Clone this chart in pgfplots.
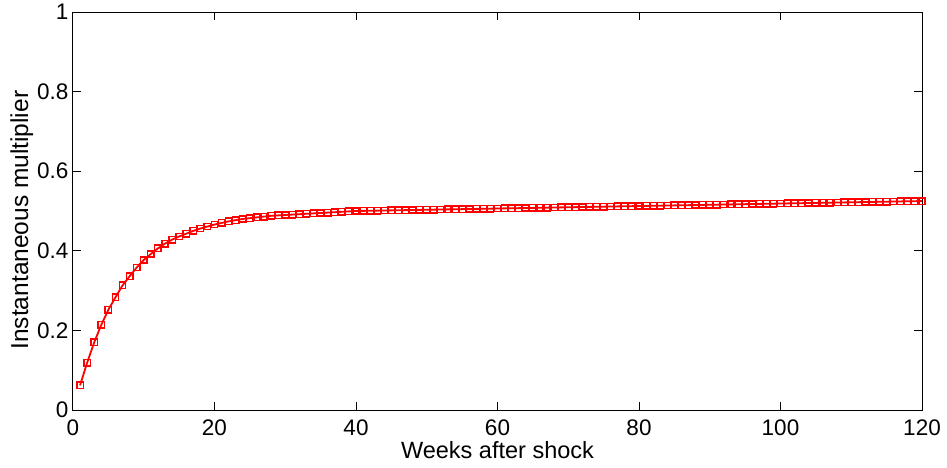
\documentclass[border=0pt]{standalone}
\usepackage{pgfplots}
\pgfplotsset{compat=1.18}
\usepackage{fontspec}
\setmainfont{Liberation Sans}
\begin{document}
\fontsize{22}{26}\selectfont
\begin{tikzpicture}[x=1pt,y=1pt]
\path[use as bounding box] (-73pt,-57pt) rectangle (874pt,410pt);
\begin{axis}[
  at={(0pt,0pt)}, anchor=south west,
  scale only axis,
  width=849pt, height=398pt,
  xmin=0, xmax=120, ymin=0, ymax=1,
  xtick={0,20,...,120},
  ytick={0,0.2,0.4,0.6,0.8,1},
  /pgf/number format/assume math mode=true,
  /pgf/number format/fixed,
  tick align=inside,
  major tick length=8pt,
  tick style={black, line width=1pt},
  axis line style={black, line width=1pt},
  xlabel={Weeks after shock},
  ylabel={Instantaneous multiplier},
  xlabel style={at={(axis description cs:0.5,-0.1206)}, anchor=base, font=\fontsize{23.5}{26}\selectfont},
  ylabel style={at={(axis description cs:-0.0530,0.477)}, anchor=base, font=\fontsize{24.5}{28}\selectfont},
  xticklabel style={yshift=-2pt},
  yticklabel style={xshift=3pt},
  ticklabel style={font=\fontsize{22.5}{26}\selectfont},
]
\addplot[red, line width=1.8pt, mark=square, mark size=3.2pt, mark options={line width=1.5pt, fill=white}] table {
x y
1 0.062
2 0.119
3 0.170
4 0.214
5 0.252
6 0.283
7 0.313
8 0.336
9 0.358
10 0.377
11 0.392
12 0.406
13 0.418
14 0.428
15 0.436
16 0.443
17 0.450
18 0.456
19 0.461
20 0.466
21 0.470
22 0.474
23 0.477
24 0.480
25 0.482
26 0.484
27 0.486
28 0.488
29 0.489
30 0.490
31 0.491
32 0.492
33 0.493
34 0.494
35 0.495
36 0.496
37 0.497
38 0.498
39 0.499
40 0.5000
41 0.5003
42 0.5006
43 0.5009
44 0.5013
45 0.5016
46 0.5019
47 0.5022
48 0.5025
49 0.5028
50 0.5031
51 0.5034
52 0.5038
53 0.5041
54 0.5044
55 0.5047
56 0.5050
57 0.5053
58 0.5056
59 0.5059
60 0.5063
61 0.5066
62 0.5069
63 0.5072
64 0.5075
65 0.5078
66 0.5081
67 0.5084
68 0.5088
69 0.5091
70 0.5094
71 0.5097
72 0.5100
73 0.5103
74 0.5106
75 0.5109
76 0.5113
77 0.5116
78 0.5119
79 0.5122
80 0.5125
81 0.5128
82 0.5131
83 0.5134
84 0.5138
85 0.5141
86 0.5144
87 0.5147
88 0.5150
89 0.5153
90 0.5156
91 0.5159
92 0.5163
93 0.5166
94 0.5169
95 0.5172
96 0.5175
97 0.5178
98 0.5181
99 0.5184
100 0.5188
101 0.5191
102 0.5194
103 0.5197
104 0.5200
105 0.5203
106 0.5206
107 0.5209
108 0.5213
109 0.5216
110 0.5219
111 0.5222
112 0.5225
113 0.5228
114 0.5231
115 0.5234
116 0.5238
117 0.5241
118 0.5244
119 0.5247
120 0.5250
};
\end{axis}
\end{tikzpicture}
\end{document}
